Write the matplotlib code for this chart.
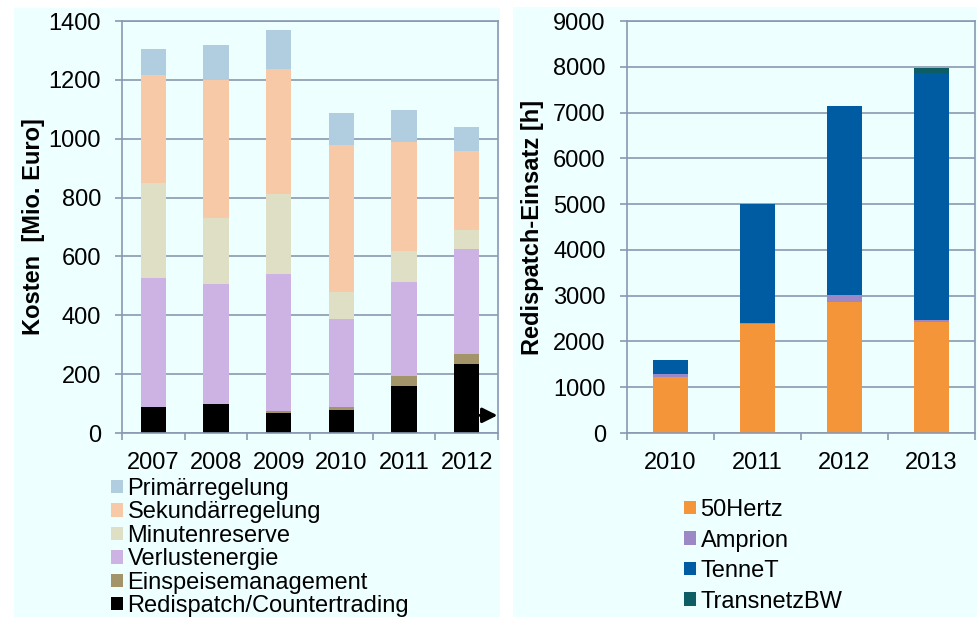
import matplotlib
matplotlib.use("Agg")
import matplotlib.pyplot as plt
from matplotlib.patches import Rectangle, Patch
import numpy as np

plt.rcParams['font.family'] = ['Liberation Sans', 'DejaVu Sans']

# ---- Left chart data (Mio. Euro) ----
years_left = ['2007', '2008', '2009', '2010', '2011', '2012']
redispatch = [90, 98, 68, 79, 160, 234]
einspeise = [0, 0, 6, 9, 34, 34]
verlust = [437, 410, 466, 300, 319, 357]
minuten = [321, 221, 271, 92, 107, 66]
sekundaer = [368, 470, 425, 500, 369, 268]
primaer = [90, 121, 135, 108, 109, 80]
left_series = ['Redispatch/Countertrading', 'Einspeisemanagement', 'Verlustenergie',
               'Minutenreserve', 'Sekundärregelung', 'Primärregelung']
left_colors = ['#000000', '#A39469', '#CCB3E3', '#DEDFC4', '#F7C9A7', '#B1CDE0']

# ---- Right chart data (h) ----
years_right = ['2010', '2011', '2012', '2013']
hertz50 = [1223, 2374, 2854, 2432]
amprion = [59, 20, 150, 44]
tennet = [305, 2606, 4150, 5380]
transnetzbw = [0, 0, 0, 110]
right_series = ['50Hertz', 'Amprion', 'TenneT', 'TransnetzBW']
right_colors = ['#F4953A', '#9D88C6', '#005CA2', '#0D5E64']

W, H = 977, 617
fig = plt.figure(figsize=(W / 100, H / 100), dpi=100)
fig.patch.set_facecolor('white')
bg = '#EEFFFF'
fig.add_artist(Rectangle((14 / W, 0), (500 - 14) / W, (H - 8) / H, transform=fig.transFigure,
                         facecolor=bg, edgecolor='none', zorder=0))
fig.add_artist(Rectangle((513 / W, 0), (977 - 513) / W, (H - 7) / H, transform=fig.transFigure,
                         facecolor=bg, edgecolor='none', zorder=0))

grid_c = '#8A98B2'
FS = 17

def style_axes(ax, n, ymax, ystep):
    ax.set_facecolor('none')
    ax.set_xlim(-0.5, n - 0.5)
    ax.set_ylim(0, ymax)
    ax.set_yticks(np.arange(0, ymax + 1, ystep))
    ax.grid(axis='y', color=grid_c, linewidth=1.2, zorder=0)
    ax.set_axisbelow(True)
    for s in ax.spines.values():
        s.set_color(grid_c)
        s.set_linewidth(1.2)
    ax.set_xticks(np.arange(-0.5, n, 1.0))
    ax.set_xticklabels([])
    ax.tick_params(axis='x', which='major', direction='out', length=5, color=grid_c, width=1.2)
    ax.tick_params(axis='y', direction='out', length=5, color=grid_c, width=1.2,
                   labelsize=FS, pad=10)
    ax.set_xticks(np.arange(n), minor=True)
    ax.tick_params(axis='x', which='minor', length=0, labelsize=FS, pad=14)

# Left axes
axL = fig.add_axes([122 / W, (H - 433) / H, 376 / W, 412 / H])
style_axes(axL, 6, 1400, 200)
axL.set_xticklabels(years_left, minor=True)
x = np.arange(len(years_left))
bottom = np.zeros(len(x))
left_data = [redispatch, einspeise, verlust, minuten, sekundaer, primaer]
for vals, col, name in zip(left_data, left_colors, left_series):
    axL.bar(x, vals, 0.4, bottom=bottom, color=col, label=name, zorder=2)
    bottom += np.array(vals)
axL.set_ylabel('Kosten  [Mio. Euro]', fontsize=FS, fontweight='bold')
axL.yaxis.set_label_coords(-0.205, 0.5)
axL.annotate('', xy=(1.006, 60), xytext=(0.945, 60),
             xycoords=('axes fraction', 'data'), textcoords=('axes fraction', 'data'),
             arrowprops=dict(arrowstyle='-|>,head_length=0.9,head_width=0.45',
                             color='black', lw=2.2), annotation_clip=False, zorder=5)

# Right axes
axR = fig.add_axes([626.7 / W, (H - 433) / H, 348.3 / W, 412 / H])
style_axes(axR, 4, 9000, 1000)
axR.set_xticklabels(years_right, minor=True)
x = np.arange(len(years_right))
bottom = np.zeros(len(x))
right_data = [hertz50, amprion, tennet, transnetzbw]
for vals, col, name in zip(right_data, right_colors, right_series):
    axR.bar(x, vals, 0.4, bottom=bottom, color=col, label=name, zorder=2)
    bottom += np.array(vals)
axR.set_ylabel('Redispatch-Einsatz [h]', fontsize=FS, fontweight='bold')
axR.yaxis.set_label_coords(-0.238, 0.5)

# Legends
hL = [Patch(facecolor=c, label=n) for n, c in zip(left_series, left_colors)][::-1]
fig.legend(handles=hL, loc='upper left', bbox_to_anchor=(111 / W, (H - 478) / H),
           frameon=False, fontsize=FS, borderpad=0, borderaxespad=0,
           handlelength=0.5, handleheight=0.5, handletextpad=0.2, labelspacing=0.06)
hR = [Patch(facecolor=c, label=n) for n, c in zip(right_series, right_colors)]
fig.legend(handles=hR, loc='upper left', bbox_to_anchor=(684 / W, (H - 499) / H),
           frameon=False, fontsize=FS, borderpad=0, borderaxespad=0,
           handlelength=0.5, handleheight=0.5, handletextpad=0.2, labelspacing=0.36)

fig.savefig('out.png', dpi=100, facecolor='white')
